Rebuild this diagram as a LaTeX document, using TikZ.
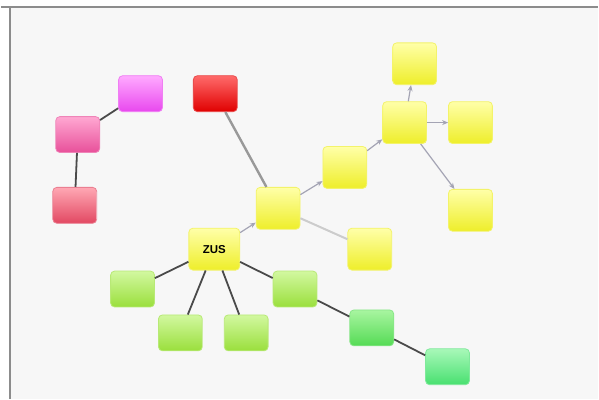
\documentclass[tikz,border=0pt]{standalone}
\usepackage{fontspec}
\setsansfont{Liberation Sans}
\usetikzlibrary{arrows.meta}
\definecolor{paper}{HTML}{F7F7F7}
\definecolor{frame}{HTML}{8C8C8C}
\definecolor{ylTop}{HTML}{FFFFA8}
\definecolor{ylBot}{HTML}{EEEE2A}
\definecolor{lgTop}{HTML}{D2F8A0}
\definecolor{lgBot}{HTML}{9ADF3C}
\definecolor{mgTop}{HTML}{A8F5A0}
\definecolor{mgBot}{HTML}{55DB55}
\definecolor{sgTop}{HTML}{A8F8B8}
\definecolor{sgBot}{HTML}{48E070}
\definecolor{vlTop}{HTML}{FFAAFF}
\definecolor{vlBot}{HTML}{E848EE}
\definecolor{pkTop}{HTML}{FFA8D2}
\definecolor{pkBot}{HTML}{E8509A}
\definecolor{rsTop}{HTML}{FFA8B4}
\definecolor{rsBot}{HTML}{E24862}
\definecolor{rdTop}{HTML}{FF6A6A}
\definecolor{rdBot}{HTML}{E00000}
\definecolor{tie}{HTML}{4A4A4A}
\definecolor{link}{HTML}{A4A4B4}
\begin{document}
\begin{tikzpicture}[x=1pt,y=-1pt,
  box/.style={rounded corners=4pt, minimum width=44pt, minimum height=36pt, inner sep=0pt, line width=0.8pt},
  tall/.style={box, minimum height=42pt},
  yl/.style={tall, draw=ylBot!70!white, top color=ylTop, bottom color=ylBot},
  lg/.style={box, draw=lgBot!70!white, top color=lgTop, bottom color=lgBot},
  mg/.style={box, draw=mgBot!70!white, top color=mgTop, bottom color=mgBot},
  sg/.style={box, draw=sgBot!70!white, top color=sgTop, bottom color=sgBot},
  vl/.style={box, draw=vlBot!70!white, top color=vlTop, bottom color=vlBot},
  pk/.style={box, draw=pkBot!70!white, top color=pkTop, bottom color=pkBot},
  rs/.style={box, draw=rsBot!70!white, top color=rsTop, bottom color=rsBot},
  rd/.style={box, draw=rdBot!70!white, top color=rdTop, bottom color=rdBot},
  tieline/.style={draw=tie, line width=1.8pt},
  arrowline/.style={draw=link, line width=1.2pt, -{Stealth[length=6pt,width=5pt]}}]
\fill[paper] (0,0) rectangle (599,400);
\fill[white] (0,0) rectangle (599,7);
\fill[white] (0,0) rectangle (9,400);
\draw[frame, line width=2pt] (0,7) -- (599,7) (9,7) -- (9,400);
% pink group
\node[vl] (violet) at (140,94) {};
\node[pk] (pink) at (77,135) {};
\node[rs] (rose) at (74,206) {};
% red and the yellow chain
\node[rd] (red) at (215,94) {};
\node[yl, minimum width=51pt] (zus) at (214,250) {\fontsize{11.5}{13}\sffamily\bfseries ZUS};
\node[yl] (yA) at (278,209) {};
\node[yl] (yB) at (345,168) {};
\node[yl] (hub) at (405,123) {};
\node[yl] (yTop) at (415,64) {};
\node[yl] (yRight) at (471,123) {};
\node[yl] (yLow) at (471,211) {};
\node[yl] (yMid) at (370,250) {};
% green group
\node[lg] (gLeft) at (132,290) {};
\node[lg] (gBl) at (180,334) {};
\node[lg] (gBr) at (246,334) {};
\node[lg] (gRight) at (295,290) {};
\node[mg] (gMid) at (372,329) {};
\node[sg] (gFar) at (448,368) {};
% connectors
\draw[tieline] (violet) -- (pink);
\draw[tieline] (pink) -- (rose);
\draw[draw=gray!80, line width=2.4pt] (red) -- (yA);
\draw[draw=gray!40, line width=2pt] (yA) -- (yMid);
\draw[arrowline] (zus) -- (yA);
\draw[arrowline] (yA) -- (yB);
\draw[arrowline] (yB) -- (hub);
\draw[arrowline] (hub) -- (yTop);
\draw[arrowline] (hub) -- (yRight);
\draw[arrowline] (hub) -- (yLow);
\foreach \g in {gLeft,gBl,gBr,gRight}
  \draw[tieline] (zus) -- (\g);
\draw[tieline] (gRight) -- (gMid);
\draw[tieline] (gMid) -- (gFar);
\end{tikzpicture}
\end{document}
